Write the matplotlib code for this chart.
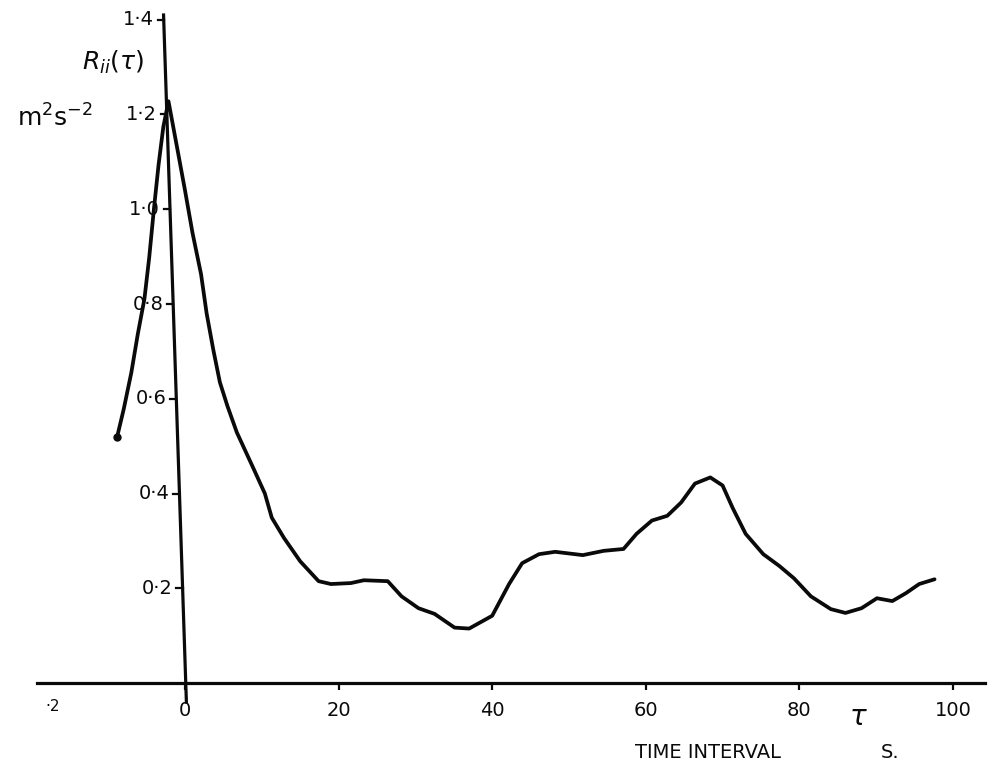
import matplotlib
matplotlib.use("Agg")
import matplotlib.pyplot as plt

# Autocorrelation R_ii(tau) of the velocity fluctuation
tau = [-8.83, -7.98, -6.99, -6.14, -5.28, -4.66, -4.05, -3.44, -2.82, -2.15,
       -0.98, 0.0, 0.98, 2.09, 2.82, 3.68, 4.54, 5.52, 6.75, 8.83, 10.4,
       11.3, 12.9, 15.0, 17.4, 19.0, 21.6, 23.3, 26.4, 28.2, 30.4, 32.5,
       35.1, 37.0, 40.0, 42.2, 43.9, 46.1, 48.2, 51.8, 54.5, 57.1, 58.8,
       60.8, 62.8, 64.6, 66.4, 68.4, 70.0, 71.3, 73.0, 75.3, 77.4, 79.3,
       81.5, 84.1, 86.0, 88.1, 90.1, 92.1, 93.9, 95.6, 97.6]
r_ii = [0.520, 0.578, 0.655, 0.737, 0.811, 0.898, 1.000, 1.094, 1.174, 1.228,
        1.126, 1.040, 0.950, 0.863, 0.780, 0.704, 0.635, 0.585, 0.529, 0.456,
        0.400, 0.349, 0.306, 0.257, 0.215, 0.209, 0.211, 0.217, 0.215, 0.183,
        0.158, 0.146, 0.117, 0.115, 0.142, 0.209, 0.253, 0.272, 0.277, 0.270,
        0.279, 0.283, 0.315, 0.343, 0.353, 0.381, 0.421, 0.434, 0.417, 0.370,
        0.315, 0.272, 0.247, 0.221, 0.183, 0.156, 0.148, 0.158, 0.179, 0.173,
        0.190, 0.209, 0.219]

x_ticks = [0, 20, 40, 60, 80, 100]
x_tick_labels = ["0", "20", "40", "60", "80", "100"]
y_ticks = [0.2, 0.4, 0.6, 0.8, 1.0, 1.2, 1.4]
y_tick_labels = ["0·2", "0·4", "0·6", "0·8", "1·0", "1·2", "1·4"]

plt.rcParams["font.family"] = ["DejaVu Sans"]
INK = "#0a0a0a"

fig = plt.figure(figsize=(9.92, 7.75), dpi=100)
ax = fig.add_axes([37 / 992, 73 / 775, 948 / 992, 687 / 775])
ax.set_xlim(-19.27, 104.17)
ax.set_ylim(-0.04, 1.41)

# curve with a dot at its starting end
ax.plot(tau, r_ii, color=INK, lw=2.7, solid_capstyle="round",
        solid_joinstyle="round")
ax.plot(tau[:1], r_ii[:1], "o", color=INK, ms=5)

# horizontal axis on the bottom spine at zero
for side in ("left", "right", "top"):
    ax.spines[side].set_visible(False)
ax.spines["bottom"].set_position(("data", 0))
ax.spines["bottom"].set_linewidth(2.3)
ax.spines["bottom"].set_color(INK)
ax.set_xticks(x_ticks)
ax.set_xticklabels(x_tick_labels)
ax.tick_params(axis="x", direction="out", length=5, width=1.6, colors=INK,
               labelsize=14, pad=8)
ax.set_yticks([])
ax.text(-17.2, -0.05, "·2", fontsize=11, ha="center", va="center", color=INK)

# the vertical axis leans slightly to the left as it rises
def axis_x(v):
    return 0.1 - 2.05 * v

ax.plot([axis_x(-0.04), axis_x(1.41)], [-0.04, 1.41], color=INK, lw=2.3,
        clip_on=False)
for v, lab in zip(y_ticks, y_tick_labels):
    ax.plot([axis_x(v) - 0.8, axis_x(v)], [v, v], color=INK, lw=1.6)
    ax.text(axis_x(v) - 1.3, v, lab, fontsize=14, ha="right", va="center",
            color=INK)

# axis titles
fig.text(113 / 992, 1 - 62 / 775, r"$R_{ii}(\tau)$", fontsize=18,
         ha="center", va="center", color=INK)
fig.text(55 / 992, 1 - 118 / 775, r"m$^{2}$s$^{-2}$", fontsize=18,
         ha="center", va="center", color=INK)
fig.text(858 / 992, 1 - 717 / 775, r"$\tau$", fontsize=20,
         ha="center", va="center", color=INK)
fig.text(708 / 992, 1 - 752 / 775, "TIME INTERVAL", fontsize=14,
         ha="center", va="center", color=INK)
fig.text(890 / 992, 1 - 752 / 775, "S.", fontsize=14,
         ha="center", va="center", color=INK)

fig.savefig("out.png", dpi=100, facecolor="white")
